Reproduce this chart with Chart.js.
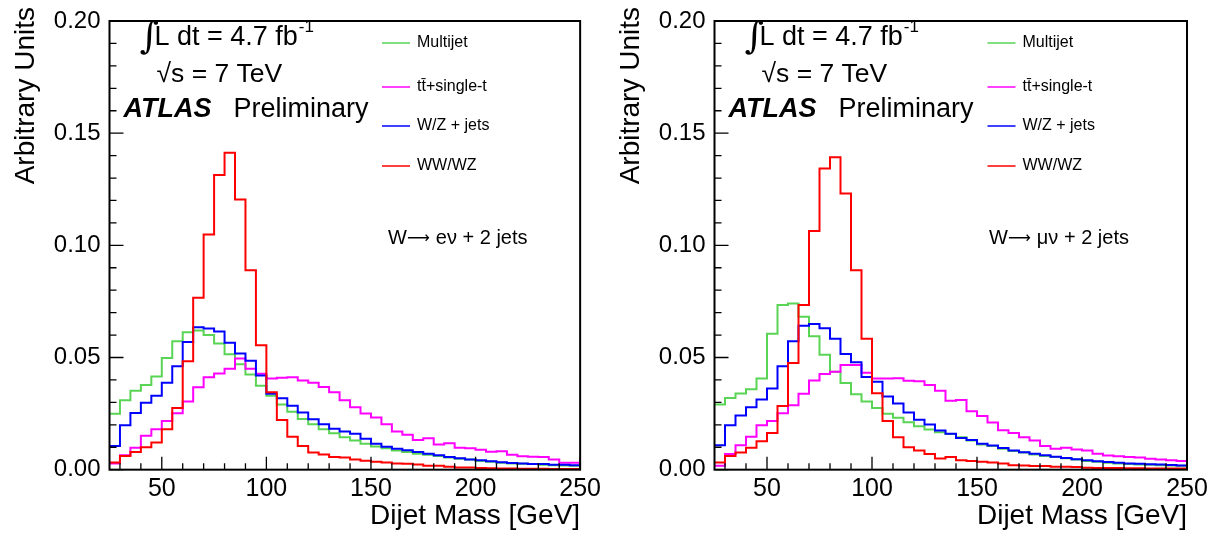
<!DOCTYPE html>
<html><head><meta charset="utf-8">
<script src="https://cdn.jsdelivr.net/npm/chart.js@4.4.0/dist/chart.umd.min.js"></script>
<style>
html,body{margin:0;padding:0;background:#fff;width:1220px;height:539px;overflow:hidden;}
canvas{position:absolute;top:0;}
#cE{left:0;} #cMu{left:605px;}
</style></head><body>
<canvas id="cE" width="605" height="539"></canvas>
<canvas id="cMu" width="615" height="539"></canvas>
<script>
// ---- bins / ticks ----
const binLow = [25,30,35,40,45,50,55,60,65,70,75,80,85,90,95,100,105,110,115,120,125,130,135,140,145,150,155,160,165,170,175,180,185,190,195,200,205,210,215,220,225,230,235,240,245];
const xMin = 25, xMax = 250;
const xTickVals = [30,40,50,60,70,80,90,100,110,120,130,140,150,160,170,180,190,200,210,220,230,240,250];
const yTickVals = [0,0.01,0.02,0.03,0.04,0.05,0.06,0.07,0.08,0.09,0.10,0.11,0.12,0.13,0.14,0.15,0.16,0.17,0.18,0.19,0.20];
const seriesNames = ['Multijet','tt\u0304+single-t','W/Z + jets','WW/WZ'];
const seriesColors = ['#59d454','#ff00ff','#0000ff','#ff0000'];

// ---- W -> e nu + 2 jets ----
const eMultijet = [0.0249,0.0310,0.0352,0.0377,0.0415,0.0498,0.0572,0.0613,0.0620,0.0600, 0.0562,0.0515,0.0470,0.0424,0.0374,0.0329,0.0290,0.0258,0.0226,0.0202, 0.0180,0.0162,0.0144,0.0130,0.0115,0.0103,0.0096,0.0086,0.0079,0.0071, 0.0067,0.0061,0.0054,0.0049,0.0045,0.0039,0.0035,0.0031,0.0028,0.0026, 0.0025,0.0022,0.0020,0.0019,0.0017];
const eTop = [0.0028,0.0064,0.0098,0.0151,0.0180,0.0217,0.0252,0.0304,0.0367,0.0412, 0.0429,0.0450,0.0496,0.0450,0.0428,0.0406,0.0410,0.0412,0.0397,0.0387, 0.0368,0.0345,0.0309,0.0278,0.0250,0.0233,0.0202,0.0170,0.0156,0.0132, 0.0140,0.0112,0.0118,0.0098,0.0095,0.0089,0.0080,0.0082,0.0066,0.0060, 0.0058,0.0057,0.0045,0.0031,0.0031];
const eWZjets = [0.0106,0.0198,0.0253,0.0298,0.0330,0.0387,0.0461,0.0569,0.0635,0.0629, 0.0616,0.0566,0.0518,0.0485,0.0420,0.0338,0.0318,0.0285,0.0255,0.0225, 0.0202,0.0182,0.0170,0.0160,0.0138,0.0116,0.0102,0.0093,0.0087,0.0079, 0.0071,0.0064,0.0057,0.0051,0.0045,0.0042,0.0038,0.0033,0.0030,0.0028, 0.0025,0.0025,0.0022,0.0022,0.0020];
const eDiboson = [0.0032,0.0061,0.0079,0.0100,0.0121,0.0180,0.0275,0.0483,0.0766,0.1048, 0.1313,0.1413,0.1204,0.0889,0.0555,0.0345,0.0221,0.0147,0.0105,0.0076, 0.0068,0.0057,0.0054,0.0045,0.0040,0.0035,0.0032,0.0028,0.0026,0.0023, 0.0017,0.0018,0.0013,0.0010,0.0010,0.0007,0.0006,0.0005,0.0005,0.0004, 0.0004,0.0004,0.0003,0.0003,0.0003];

// ---- W -> mu nu + 2 jets ----
const muMultijet = [0.0290,0.0319,0.0340,0.0358,0.0406,0.0606,0.0734,0.0741,0.0682,0.0595, 0.0512,0.0436,0.0386,0.0336,0.0304,0.0275,0.0249,0.0231,0.0211,0.0194, 0.0179,0.0167,0.0159,0.0144,0.0130,0.0112,0.0105,0.0093,0.0083,0.0076, 0.0068,0.0061,0.0057,0.0051,0.0045,0.0039,0.0035,0.0031,0.0028,0.0025, 0.0023,0.0022,0.0020,0.0019,0.0017];
const muTop = [0.0017,0.0070,0.0109,0.0147,0.0198,0.0217,0.0252,0.0287,0.0338,0.0397, 0.0427,0.0437,0.0467,0.0467,0.0432,0.0406,0.0406,0.0408,0.0396,0.0394, 0.0377,0.0352,0.0307,0.0311,0.0260,0.0239,0.0210,0.0176,0.0163,0.0144, 0.0130,0.0105,0.0093,0.0098,0.0090,0.0086,0.0071,0.0063,0.0060,0.0057, 0.0054,0.0049,0.0045,0.0042,0.0039];
const muWZjets = [0.0109,0.0198,0.0242,0.0278,0.0313,0.0362,0.0461,0.0573,0.0642,0.0649, 0.0630,0.0584,0.0516,0.0479,0.0413,0.0392,0.0326,0.0295,0.0255,0.0222, 0.0201,0.0175,0.0160,0.0141,0.0132,0.0116,0.0108,0.0097,0.0086,0.0078, 0.0071,0.0064,0.0058,0.0052,0.0047,0.0042,0.0038,0.0034,0.0031,0.0028, 0.0026,0.0024,0.0023,0.0021,0.0019];
const muDiboson = [0.0032,0.0061,0.0076,0.0098,0.0127,0.0163,0.0284,0.0476,0.0734,0.1064, 0.1342,0.1393,0.1231,0.0889,0.0584,0.0341,0.0217,0.0144,0.0100,0.0085, 0.0070,0.0050,0.0057,0.0042,0.0039,0.0035,0.0032,0.0028,0.0020,0.0019, 0.0016,0.0016,0.0013,0.0013,0.0012,0.0009,0.0008,0.0008,0.0007,0.0006, 0.0006,0.0005,0.0005,0.0005,0.0005];

const SANS = "'Liberation Sans', Arial, Helvetica, sans-serif";
const yTitleText = 'Arbitrary Units';
const xTitleText = 'Dijet Mass [GeV]';

function histPoints(vals) {
  const pts = binLow.map((x, i) => ({x: x, y: vals[i]}));
  pts.push({x: xMax, y: vals[vals.length - 1]});
  return pts;
}

const frameTicks = {
  id: 'frameTicks',
  afterDatasetsDraw(chart) {
    const {ctx, chartArea: a, scales: {x, y}} = chart;
    ctx.save();
    ctx.strokeStyle = '#000';
    ctx.lineWidth = 1.3;
    ctx.beginPath();
    x.ticks.forEach(t => {
      const px = x.getPixelForValue(t.value);
      const len = (t.value % 50 === 0) ? 13 : 6.5;
      ctx.moveTo(px, a.bottom); ctx.lineTo(px, a.bottom - len);
    });
    y.ticks.forEach(t => {
      const py = y.getPixelForValue(t.value);
      const major = Math.round(t.value * 100) % 5 === 0;
      ctx.moveTo(a.left, py); ctx.lineTo(a.left + (major ? 14 : 7), py);
    });
    ctx.stroke();
    ctx.lineWidth = 2;
    ctx.strokeRect(a.left, a.top, a.right - a.left, a.bottom - a.top);
    ctx.restore();
  }
};

const annot = {
  id: 'annot',
  afterDraw(chart, args, o) {
    const {ctx, chartArea: a} = chart;
    const L = a.left;
    ctx.save();
    ctx.fillStyle = '#000';
    // y axis title (rotated, aligned to the top end)
    ctx.save();
    ctx.translate(26, 7);
    ctx.rotate(-Math.PI / 2);
    ctx.textAlign = 'right';
    ctx.textBaseline = 'middle';
    ctx.font = '28px ' + SANS;
    ctx.fillText(yTitleText, 0, 0);
    ctx.restore();

    ctx.textAlign = 'left';
    ctx.textBaseline = 'alphabetic';
    ctx.font = "37px 'DejaVu Serif', serif";
    ctx.fillText('\u222B', L + 30, 48);
    ctx.font = '27px ' + SANS;
    const s1 = 'L dt = 4.7 fb';
    ctx.fillText(s1, L + 45, 45);
    const w1 = ctx.measureText(s1).width;
    ctx.font = '17px ' + SANS;
    ctx.fillText('-1', L + 45 + w1 + 1, 32);
    ctx.font = '26.5px ' + SANS;
    ctx.fillText('\u221As = 7 TeV', L + 47, 82);
    ctx.font = 'italic bold 27px ' + SANS;
    ctx.fillText('ATLAS', L + 14, 117);
    ctx.font = '27px ' + SANS;
    ctx.fillText('Preliminary', L + 124, 117);
    // legend
    const legY = [43, 87, 126, 166];
    ctx.font = '16px ' + SANS;
    ctx.textBaseline = 'middle';
    chart.data.datasets.forEach((ds, i) => {
      ctx.strokeStyle = ds.borderColor;
      ctx.lineWidth = 1.5;
      ctx.beginPath();
      ctx.moveTo(L + o.legX, legY[i]); ctx.lineTo(L + o.legX + 28, legY[i]);
      ctx.stroke();
      ctx.fillText(ds.label, L + o.legX + 35, legY[i]);
    });
    // channel label
    let cx = L + o.chX;
    ctx.font = '20px ' + SANS;
    ctx.fillText('W', cx, 238);
    cx += ctx.measureText('W').width;
    ctx.font = "16px 'DejaVu Sans', sans-serif";
    ctx.fillText('\u27F6', cx, 239);
    cx += ctx.measureText('\u27F6').width + 6;
    ctx.font = '20px ' + SANS;
    ctx.fillText(o.channel, cx, 238);
    ctx.restore();
  }
};

function makeChart(id, vals, padRight, opts) {
  const datasets = vals.map((v, i) => ({
    label: seriesNames[i],
    data: histPoints(v),
    borderColor: seriesColors[i],
    backgroundColor: seriesColors[i],
    borderWidth: 2,
    pointRadius: 0,
    fill: false,
    stepped: true,
    order: 4 - i
  }));
  return new Chart(document.getElementById(id), {
    type: 'line',
    data: {datasets},
    plugins: [frameTicks, annot],
    options: {
      responsive: false,
      animation: false,
      layout: {padding: {top: 13, right: padRight, left: 0, bottom: 0}},
      plugins: {legend: {display: false}, tooltip: {enabled: false}, annot: opts},
      scales: {
        x: {
          type: 'linear', min: xMin, max: xMax,
          grid: {display: false, drawTicks: false},
          border: {display: false},
          afterBuildTicks: s => { s.ticks = xTickVals.map(v => ({value: v})); },
          afterFit: s => { s.height = 539 - 469.67; },
          ticks: {
            autoSkip: false, maxRotation: 0, minRotation: 0, padding: 4, color: '#000',
            font: {family: SANS, size: 25, lineHeight: 1.2},
            callback: v => (v % 50 === 0 ? String(v) : '')
          },
          title: {display: true, text: xTitleText, align: 'end', color: '#000',
                  font: {family: SANS, size: 28, lineHeight: 1.2}, padding: {top: 0, bottom: 6}}
        },
        y: {
          type: 'linear', min: 0, max: 0.2,
          grid: {display: false, drawTicks: false},
          border: {display: false},
          afterBuildTicks: s => { s.ticks = yTickVals.map(v => ({value: v})); },
          afterFit: s => { s.width = 109.5; },
          ticks: {
            autoSkip: false, padding: 9, color: '#000',
            font: {family: SANS, size: 24, lineHeight: 1.0},
            callback: v => (Math.round(v * 100) % 5 === 0 ? v.toFixed(2) : '')
          },
          title: {display: false}
        }
      }
    }
  });
}

makeChart('cE', [eMultijet, eTop, eWZjets, eDiboson], 23,
  {legX: 272.5, chX: 278.5, channel: 'e\u03BD + 2 jets'});
makeChart('cMu', [muMultijet, muTop, muWZjets, muDiboson], 33,
  {legX: 273, chX: 274.5, channel: '\u03BC\u03BD + 2 jets'});
</script>
</body></html>
